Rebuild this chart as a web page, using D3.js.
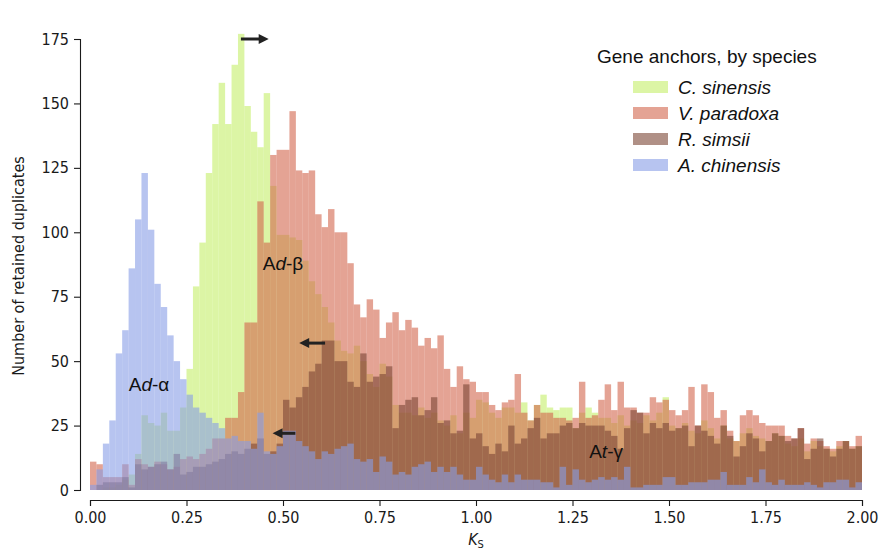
<!DOCTYPE html>
<html>
<head>
<meta charset="utf-8">
<script src="https://cdn.jsdelivr.net/npm/d3@7"></script>
<style>
  body { margin: 0; background: #fff; }
  .axis text { font-family: "DejaVu Sans Condensed", "DejaVu Sans", sans-serif; font-size: 16px; fill: #1a1a1a; }
  .axis path, .axis line { stroke: #1a1a1a; stroke-width: 1.1; }
</style>
</head>
<body>
<svg id="chart" width="883" height="552"></svg>
<script>
// histogram of Ks, 120 bins of width 1/60 between 0 and 2
const binWidth = 1 / 60;

const species = ["C. sinensis", "V. paradoxa", "R. simsii", "A. chinensis"];
const speciesColors = ["#c5ee69", "#d2664d", "#7c4636", "#879de6"];

// counts per bin
const cSinensis = [
  0, 0, 1, 1, 2, 4, 6, 14, 29, 26, 25, 30, 23, 23, 32, 47, 79, 96, 123, 142,
  158, 142, 165, 177, 149, 139, 133, 154, 118, 99, 99, 98, 97, 89, 81, 76, 71, 65, 58, 54,
  53, 56, 50, 45, 40, 49, 44, 33, 30, 30, 29, 32, 28, 30, 27, 25, 29, 22, 30, 28,
  35, 34, 30, 28, 32, 32, 30, 34, 27, 33, 37, 32, 31, 32, 32, 24, 30, 32, 30, 28,
  28, 26, 29, 25, 27, 26, 29, 27, 30, 36, 25, 24, 26, 23, 22, 27, 24, 20, 25, 20,
  19, 22, 24, 21, 20, 19, 22, 21, 18, 17, 20, 15, 19, 17, 16, 15, 17, 19, 16, 17
];
const vParadoxa = [
  11, 10, 5, 5, 5, 10, 2, 12, 10, 9, 11, 10, 8, 9, 12, 13, 12, 14, 16, 20,
  20, 28, 28, 38, 65, 65, 112, 96, 130, 132, 132, 147, 124, 123, 124, 107, 102, 109, 100, 100,
  88, 72, 67, 74, 70, 59, 65, 69, 62, 66, 63, 56, 59, 55, 60, 47, 40, 48, 43, 42,
  38, 38, 33, 31, 34, 35, 45, 30, 27, 33, 30, 30, 28, 28, 27, 28, 42, 28, 29, 35,
  41, 31, 42, 32, 32, 30, 30, 36, 34, 35, 31, 29, 31, 40, 25, 41, 38, 28, 31, 23,
  19, 29, 31, 29, 26, 25, 25, 25, 21, 20, 24, 18, 20, 19, 17, 16, 19, 19, 17, 21
];
const rSimsii = [
  0, 2, 3, 3, 3, 5, 1, 10, 8, 9, 10, 11, 8, 14, 6, 7, 9, 9, 10, 11,
  12, 14, 15, 14, 16, 18, 20, 14, 15, 18, 35, 32, 36, 40, 46, 49, 58, 58, 50, 50,
  42, 40, 53, 42, 44, 45, 48, 24, 33, 35, 36, 29, 31, 36, 26, 27, 22, 23, 41, 20,
  22, 17, 14, 18, 15, 25, 18, 20, 24, 28, 20, 22, 22, 25, 26, 24, 26, 25, 25, 25,
  23, 21, 16, 24, 31, 30, 22, 26, 24, 26, 23, 24, 25, 17, 25, 23, 21, 18, 25, 21,
  13, 17, 22, 20, 15, 19, 22, 21, 19, 20, 24, 12, 16, 20, 16, 13, 16, 19, 16, 17
];
const aChinensis = [
  2, 8, 18, 27, 53, 62, 86, 105, 123, 101, 80, 71, 60, 50, 43, 37, 32, 30, 28, 26,
  24, 20, 21, 19, 19, 16, 30, 15, 14, 17, 23, 23, 19, 17, 15, 12, 15, 14, 16, 17,
  18, 12, 11, 12, 7, 13, 11, 6, 7, 6, 9, 10, 11, 7, 9, 7, 9, 6, 4, 4,
  9, 6, 4, 3, 6, 3, 6, 4, 4, 4, 3, 3, 1, 9, 2, 8, 4, 3, 4, 5,
  4, 5, 4, 9, 1, 1, 2, 2, 2, 5, 5, 2, 2, 3, 3, 3, 4, 4, 7, 2,
  2, 2, 5, 3, 8, 3, 2, 4, 2, 2, 2, 3, 2, 1, 3, 3, 4, 4, 1, 3
];
const seriesList = [cSinensis, vParadoxa, rSimsii, aChinensis];

const yTicks = [0, 25, 50, 75, 100, 125, 150, 175];
const xTicks = [0, 0.25, 0.5, 0.75, 1, 1.25, 1.5, 1.75, 2];

const svg = d3.select("#chart");

let x = d3.scaleLinear().domain([0, 2]).range([90, 862]);
let y = d3.scaleLinear().domain([0, 175]).range([490, 39]);

// bars, first species at the bottom
seriesList.forEach((counts, s) => {
  svg.append("g")
    .selectAll("rect")
    .data(counts)
    .join("rect")
    .attr("x", (d, i) => x(i * binWidth))
    .attr("width", (d, i) => x((i + 1) * binWidth) - x(i * binWidth))
    .attr("y", d => y(d))
    .attr("height", d => y(0) - y(d))
    .attr("fill", speciesColors[s])
    .attr("fill-opacity", 0.6);
});

// axes, offset from the data like seaborn's despine
svg.append("g")
  .attr("class", "axis")
  .attr("transform", "translate(0,500)")
  .call(d3.axisBottom(x).tickValues(xTicks).tickFormat(d3.format(".2f")).tickSizeOuter(0).tickSize(6).tickPadding(6));

svg.append("g")
  .attr("class", "axis")
  .attr("transform", "translate(80,0)")
  .call(d3.axisLeft(y).tickValues(yTicks).tickSizeOuter(0).tickSize(6).tickPadding(5));

// axis titles
svg.append("text")
  .attr("transform", "translate(24,266) rotate(-90)")
  .attr("text-anchor", "middle")
  .style("font-family", "'DejaVu Sans Condensed', 'DejaVu Sans', sans-serif")
  .style("font-size", "16px")
  .attr("fill", "#1a1a1a")
  .text("Number of retained duplicates");

let xLabel = svg.append("text")
  .attr("x", 476)
  .attr("y", 545)
  .attr("text-anchor", "middle")
  .style("font-family", "'DejaVu Sans Condensed', 'DejaVu Sans', sans-serif")
  .style("font-size", "16px")
  .attr("fill", "#1a1a1a");
xLabel.append("tspan").style("font-style", "italic").text("K");
xLabel.append("tspan").attr("dy", 3).style("font-size", "11px").text("S");

// peak annotations
const labelFont = "'Liberation Sans', Arial, sans-serif";
function peakLabel(px, py, mid, greek) {
  let t = svg.append("text")
    .attr("x", x(px)).attr("y", y(py))
    .attr("text-anchor", "middle")
    .style("font-family", labelFont)
    .style("font-size", "19px")
    .attr("fill", "#111");
  t.append("tspan").text("A");
  t.append("tspan").style("font-style", "italic").text(mid);
  t.append("tspan").text("-" + greek);
}
peakLabel(0.153, 38.5, "d", "α");
peakLabel(0.5, 85.5, "d", "β");
peakLabel(1.337, 12.5, "t", "γ");

// arrows
function arrow(x0, x1, v) {
  let dir = x1 > x0 ? 1 : -1;
  let yy = y(v);
  let xe = x(x1);
  svg.append("line")
    .attr("x1", x(x0)).attr("x2", xe - dir * 8)
    .attr("y1", yy).attr("y2", yy)
    .attr("stroke", "#222").attr("stroke-width", 3);
  svg.append("path")
    .attr("d", `M${xe},${yy} L${xe - dir * 10},${yy - 5} L${xe - dir * 10},${yy + 5} Z`)
    .attr("fill", "#222");
}
arrow(0.391, 0.463, 175);
arrow(0.609, 0.542, 57);
arrow(0.532, 0.473, 22);

// legend
let legend = svg.append("g").attr("transform", "translate(597,0)");
legend.append("text")
  .attr("x", 0).attr("y", 63)
  .style("font-family", labelFont)
  .style("font-size", "19px")
  .attr("fill", "#111")
  .text("Gene anchors, by species");

species.forEach((name, i) => {
  let row = legend.append("g").attr("transform", `translate(0,${81 + i * 26})`);
  row.append("rect")
    .attr("x", 36).attr("y", 0)
    .attr("width", 35).attr("height", 12)
    .attr("fill", speciesColors[i])
    .attr("fill-opacity", 0.6);
  row.append("text")
    .attr("x", 81).attr("y", 13)
    .style("font-family", labelFont)
    .style("font-size", "19px")
    .style("font-style", "italic")
    .attr("fill", "#111")
    .text(name);
});
</script>
</body>
</html>
